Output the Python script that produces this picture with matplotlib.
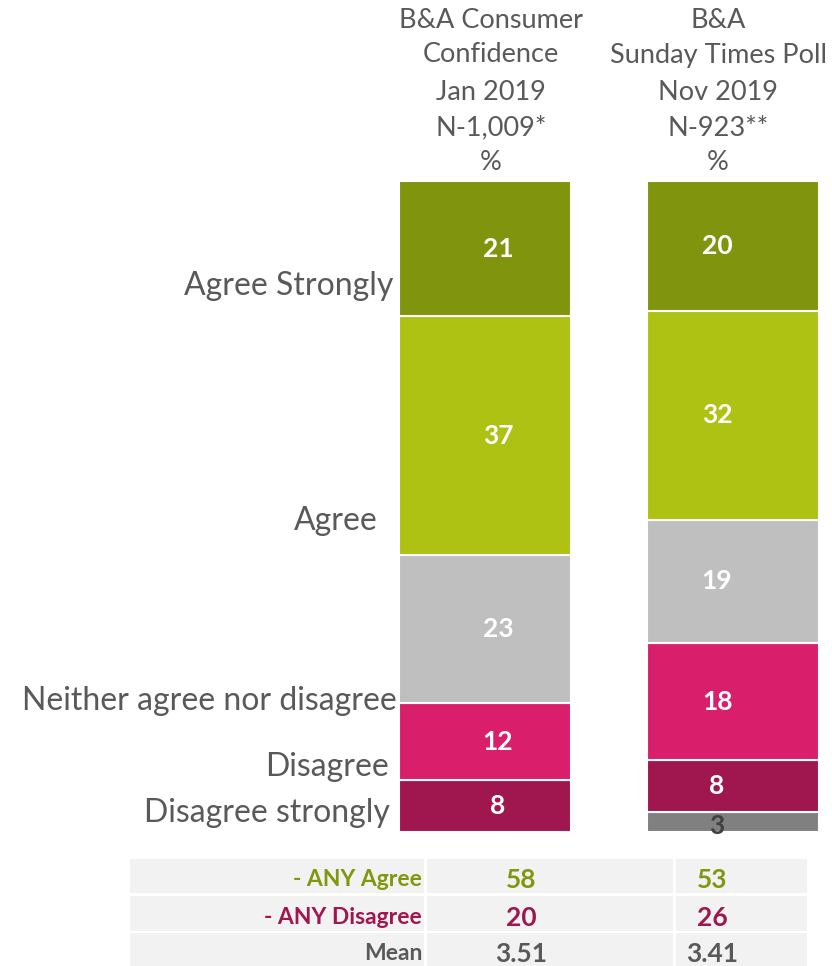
import numpy as np
import matplotlib.pyplot as plt
from matplotlib.patches import Rectangle

plt.rcParams['font.family'] = ['Lato', 'DejaVu Sans']

# data
categories = ['Agree Strongly', 'Agree', 'Neither agree nor disagree',
              'Disagree', 'Disagree strongly', "Don't know"]
jan_2019 = [21, 37, 23, 12, 8, 0]
nov_2019 = [20, 32, 19, 18, 8, 3]
headers = [['B&A Consumer', 'Confidence', 'Jan 2019', 'N-1,009*', '%'],
           ['B&A', 'Sunday Times Poll', 'Nov 2019', 'N-923**', '%']]
table_labels = ['- ANY Agree', '- ANY Disagree', 'Mean']
table_values = [['58', '20', '3.51'], ['53', '26', '3.41']]

colors = ['#80940E', '#AEC213', '#BFBFBF', '#D91F6C', '#A0174F', '#808080']
label_colors = ['white'] * 5 + ['#404040']
grey = '#595959'

W, H = 832, 966
fig = plt.figure(figsize=(W / 100, H / 100), dpi=100)

# bar axes: bar centres at px 485 and 733, values from px 832 (0) up to px 181 (100)
ax = fig.add_axes([0, (H - 832) / H, 1, 651 / H])
ax.set_xlim(-485 / 248, (W - 485) / 248)
ax.set_ylim(0, 100)
ax.axis('off')

label_shift = [13 / 248, -16 / 248]
series = [jan_2019, nov_2019]
for i, vals in enumerate(series):
    vals = np.array(vals, dtype=float)
    pct = vals / vals.sum() * 100
    bottom = 0
    # stack from the bottom: last category first
    for j in range(len(categories) - 1, -1, -1):
        if vals[j] == 0:
            continue
        ax.bar(i, pct[j], bottom=bottom, width=172 / 248, color=colors[j],
               edgecolor='white', linewidth=1.5)
        yc = bottom + pct[j] / 2
        if j == len(categories) - 1:
            yc = bottom + pct[j] / 2 - 0.6
        ax.text(i + label_shift[i], yc, '%d' % vals[j], ha='center', va='center',
                color=label_colors[j], fontsize=19, fontweight='bold')
        bottom += pct[j]

# overlay axes in pixel coordinates for text and table
ov = fig.add_axes([0, 0, 1, 1], zorder=-1)
ov.set_xlim(0, W)
ov.set_ylim(H, 0)
ov.axis('off')
ov2 = fig.add_axes([0, 0, 1, 1])
ov2.set_xlim(0, W)
ov2.set_ylim(H, 0)
ov2.axis('off')
ov2.patch.set_alpha(0)

# row labels on the left
row_label_x = [393, 378, 397, 389, 390]
row_label_y = [286, 521, 701, 767, 813]
for lab, x, y in zip(categories[:5], row_label_x, row_label_y):
    ov2.text(x, y, lab, ha='right', va='center', fontsize=23, color=grey)

# column headers
header_x = [491, 718]
header_y = [20, 55, 92, 128, 163]
for hx, lines in zip(header_x, headers):
    for y, line in zip(header_y, lines):
        ov2.text(hx, y, line, ha='center', va='center', fontsize=19.5, color=grey)

# summary table
row_top = [859, 896, 933]
row_h = [34, 35, 33]
cell_x = [(130, 424), (427, 673), (676, 807)]
for r in range(3):
    for x0, x1 in cell_x:
        ov.add_patch(Rectangle((x0, row_top[r]), x1 - x0, row_h[r], color='#F2F2F2', lw=0))

tab_colors = ['#83960F', '#A0174F', grey]
val_x = [521, 712]
for r, lab in enumerate(table_labels):
    yc = row_top[r] + row_h[r] / 2 + 4
    ov2.text(422, yc, lab, ha='right', va='center', fontsize=16.5, fontweight='bold',
             color=tab_colors[r])
    for c in range(2):
        ov2.text(val_x[c], yc, table_values[c][r], ha='center', va='center', fontsize=19,
                 fontweight='bold', color=tab_colors[r])

fig.savefig('out.png', dpi=100)
